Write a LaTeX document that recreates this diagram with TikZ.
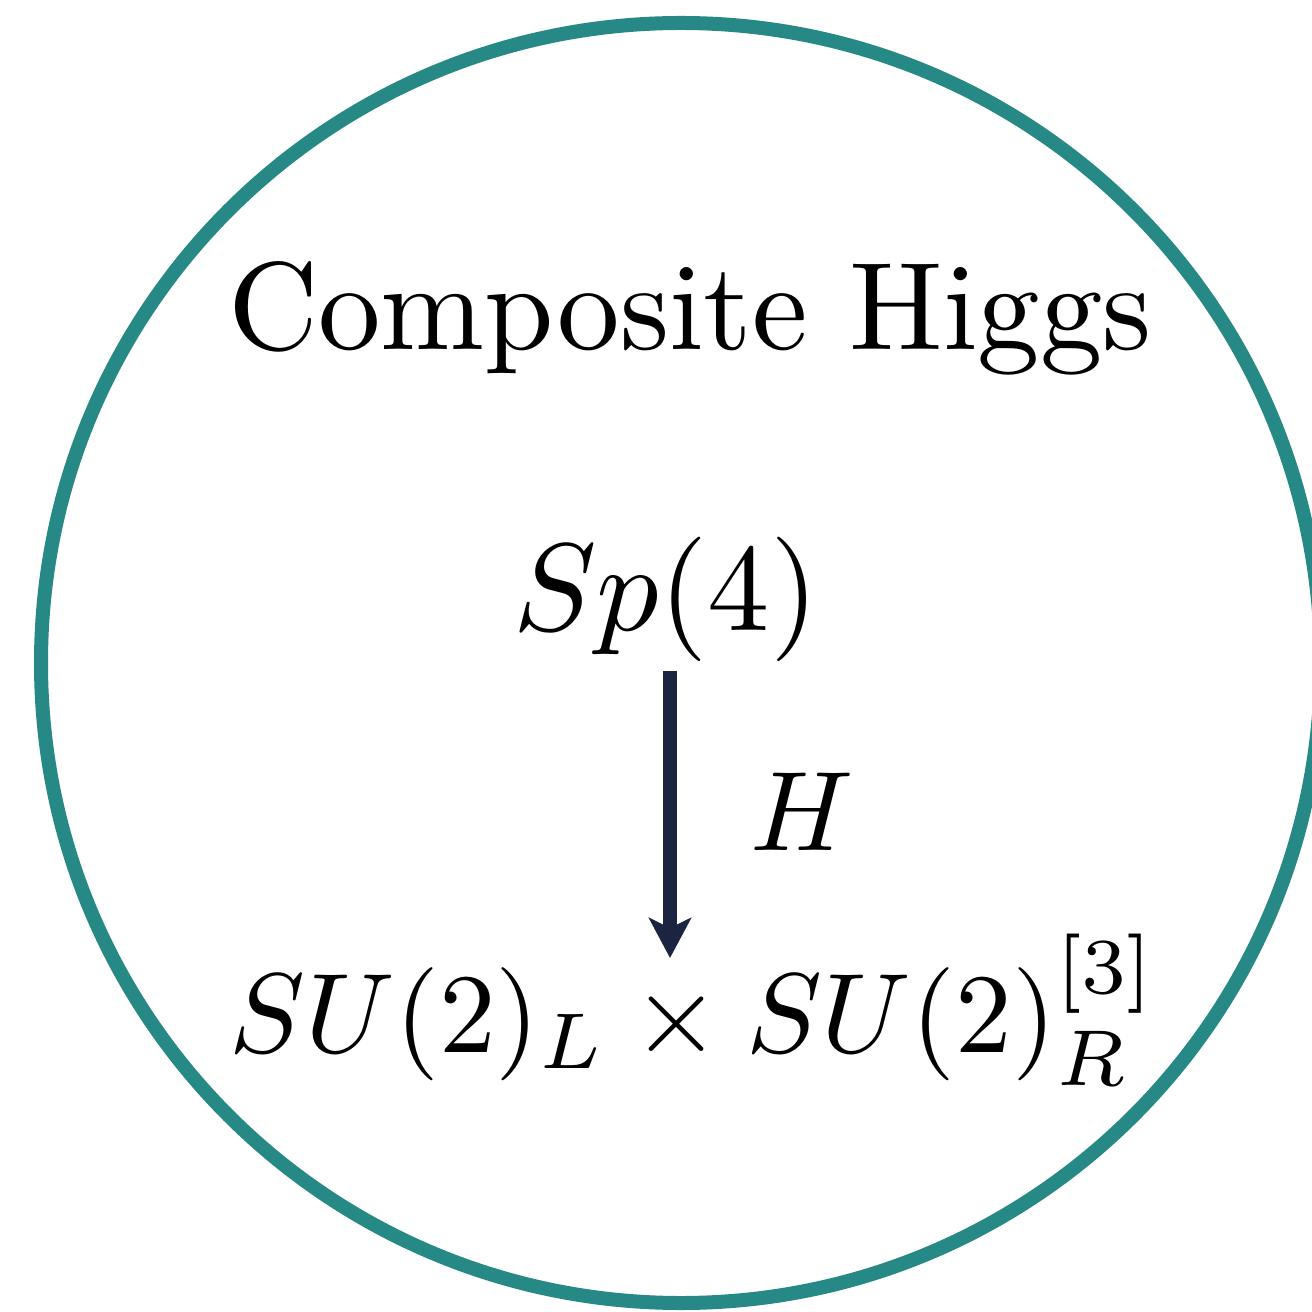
\documentclass[tikz,border=0pt]{standalone}
\usetikzlibrary{arrows.meta}
\definecolor{ringteal}{RGB}{38,137,133}
\definecolor{arrownavy}{RGB}{27,36,64}
\begin{document}
\begin{tikzpicture}[x=0.25pt,y=0.25pt,yscale=-1,xscale=1,
	textnode/.style={anchor=base,inner sep=0pt,scale=3.12},
	mathnode/.style={anchor=base,inner sep=0pt,scale=2.83},
	breakarrow/.style={draw=arrownavy,line width=3.4pt,-{Stealth[length=10pt,width=10.5pt,inset=2.5pt]}}]
	\clip (0,0) rectangle (1312,1312);
	
	%Shape: Circle [id:ring]
	\draw [ringteal,line width=3.5pt] (681,663) circle (640) ;
	
	% Text Node
	\draw (690,350) node (title) [textnode] {Composite Higgs};
	% Text Node
	\draw (666,631) node (sp) [mathnode,scale=1.1] {$Sp(4)$};
	% Text Node
	\draw (802,850) node (hlabel) [mathnode] {$H$};
	% Text Node
	\draw (694,1052) node (sub) [mathnode] {$SU(2)_L\times SU(2)_R^{[3]}$};
	
	%Straight Lines [id:breaking]
	\coordinate (tip) at (670,958);
	\draw [breakarrow,shorten <=1.5pt] (sp.south -| tip) -- (tip) ;
	
\end{tikzpicture}
\end{document}
